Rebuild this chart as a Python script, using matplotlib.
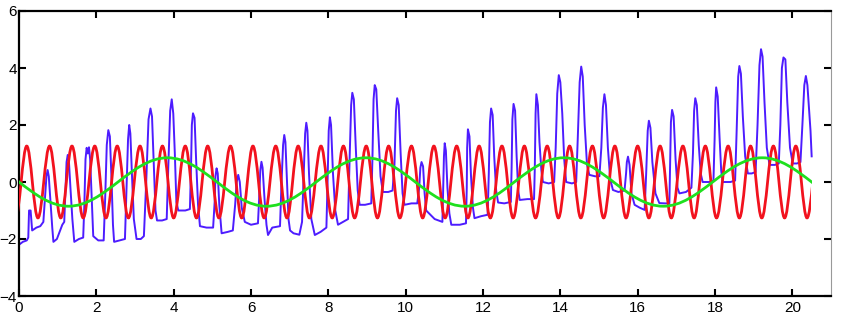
import numpy as np
import matplotlib
matplotlib.use("Agg")
import matplotlib.pyplot as plt
from matplotlib.path import Path
from matplotlib.patches import PathPatch, Rectangle

plt.rcParams["font.family"] = ["Liberation Sans", "DejaVu Sans"]

# blue signal, one pulse per row
blue_t = [
    0.0, 0.1, 0.2, 0.24, 0.26, 0.30, 0.34, 0.45, 0.55, 0.63,
    0.67, 0.71, 0.74, 0.77, 0.81, 0.86, 0.89, 0.98, 1.05, 1.12, 1.17,
    1.20, 1.23, 1.26, 1.29, 1.33, 1.38, 1.43, 1.55, 1.66,
    1.69, 1.72, 1.75, 1.78, 1.81, 1.84, 1.88, 1.92, 2.05, 2.19,
    2.23, 2.27, 2.31, 2.35, 2.39, 2.43, 2.46, 2.60, 2.74,
    2.78, 2.82, 2.85, 2.88, 2.92, 2.97, 3.04, 3.15, 3.23,
    3.29, 3.35, 3.40, 3.44, 3.48, 3.53, 3.57, 3.70, 3.82,
    3.86, 3.91, 3.95, 3.99, 4.03, 4.07, 4.12, 4.30, 4.42,
    4.45, 4.47, 4.50, 4.54, 4.58, 4.63, 4.68, 4.85, 5.02,
    5.06, 5.08, 5.11, 5.14, 5.18, 5.24, 5.40, 5.53,
    5.59, 5.63, 5.67, 5.71, 5.76, 5.84, 6.00, 6.18,
    6.21, 6.24, 6.27, 6.30, 6.35, 6.40, 6.44, 6.55, 6.75,
    6.79, 6.83, 6.86, 6.89, 6.93, 6.97, 7.01, 7.10, 7.25, 7.32,
    7.36, 7.40, 7.43, 7.46, 7.50, 7.56, 7.65, 7.80, 7.95,
    7.98, 8.01, 8.04, 8.07, 8.12, 8.18, 8.25, 8.38, 8.51,
    8.55, 8.59, 8.62, 8.66, 8.71, 8.76, 8.81, 8.95, 9.11,
    9.14, 9.17, 9.20, 9.24, 9.29, 9.35, 9.41, 9.55, 9.66,
    9.71, 9.75, 9.78, 9.82, 9.87, 9.92, 9.97, 10.15, 10.30,
    10.35, 10.38, 10.41, 10.45, 10.49, 10.53, 10.75, 10.95,
    10.97, 10.99, 11.01, 11.04, 11.08, 11.13, 11.18, 11.40, 11.56,
    11.58, 11.59, 11.61, 11.65, 11.69, 11.74, 11.78, 11.95, 12.12,
    12.15, 12.18, 12.21, 12.25, 12.29, 12.34, 12.39, 12.55, 12.72,
    12.74, 12.76, 12.79, 12.83, 12.87, 12.91, 12.95, 13.15, 13.32,
    13.34, 13.36, 13.38, 13.42, 13.46, 13.51, 13.55, 13.70, 13.84,
    13.88, 13.92, 13.96, 14.00, 14.05, 14.10, 14.15, 14.30, 14.41,
    14.45, 14.50, 14.54, 14.58, 14.63, 14.69, 14.75, 14.90, 15.01,
    15.06, 15.10, 15.14, 15.18, 15.23, 15.29, 15.36, 15.50, 15.66,
    15.70, 15.72, 15.75, 15.79, 15.84, 15.92, 16.05, 16.18,
    16.22, 16.26, 16.29, 16.33, 16.38, 16.46, 16.56, 16.70, 16.82,
    16.84, 16.86, 16.89, 16.93, 16.98, 17.03, 17.08, 17.25, 17.39,
    17.43, 17.46, 17.49, 17.53, 17.58, 17.63, 17.68, 17.85, 17.96,
    17.99, 18.01, 18.03, 18.07, 18.12, 18.16, 18.20, 18.40, 18.52,
    18.56, 18.60, 18.63, 18.67, 18.72, 18.78, 18.85, 18.95, 19.05,
    19.10, 19.15, 19.19, 19.23, 19.28, 19.34, 19.41, 19.55, 19.65,
    19.69, 19.73, 19.77, 19.82, 19.87, 19.94, 20.01, 20.12, 20.21,
    20.26, 20.31, 20.35, 20.39, 20.43, 20.47, 20.50,
]
blue_v = [
    -2.2, -2.1, -2.05, -1.95, -1.0, -1.0, -1.7, -1.6, -1.55, -1.4,
    -0.6, 0.2, 0.42, 0.2, -0.6, -1.6, -2.1, -2.0, -1.75, -1.5, -1.4,
    -0.3, 0.7, 0.95, 0.75, -0.2, -1.3, -2.1, -2.0, -1.95,
    -0.8, 0.8, 1.2, 1.0, 1.22, 0.8, -0.6, -1.9, -2.05, -2.05,
    -0.5, 1.3, 1.82, 1.6, 0.2, -1.5, -2.1, -2.05, -2.0,
    -0.3, 1.5, 2.0, 1.7, 0.3, -1.3, -2.0, -2.0, -1.9,
    0.0, 2.2, 2.58, 2.3, 0.8, -1.0, -1.35, -1.35, -1.3,
    0.5, 2.5, 2.9, 2.4, 1.0, -0.7, -1.0, -1.0, -0.95,
    0.6, 2.0, 2.41, 2.25, 0.8, -0.8, -1.55, -1.6, -1.6,
    -0.7, 0.2, 0.48, 0.3, -0.8, -1.8, -1.75, -1.7,
    -0.8, 0.0, 0.25, 0.0, -0.9, -1.4, -1.5, -1.45,
    -0.6, 0.4, 0.71, 0.5, -0.6, -1.5, -1.86, -1.6, -1.55,
    0.0, 1.3, 1.65, 1.4, 0.0, -1.3, -1.7, -1.8, -1.85, -1.4,
    0.2, 1.7, 2.08, 1.8, 0.3, -1.3, -1.86, -1.75, -1.6,
    0.0, 1.8, 2.27, 2.0, 0.3, -1.0, -1.5, -1.4, -1.3,
    0.8, 2.7, 3.13, 2.9, 1.2, -0.3, -0.8, -0.8, -0.75,
    0.8, 2.9, 3.4, 3.25, 1.8, 0.2, -0.35, -0.35, -0.3,
    0.6, 2.5, 2.94, 2.7, 1.0, -0.4, -0.8, -0.75, -0.75,
    -0.2, 0.5, 0.7, 0.55, -0.4, -1.0, -1.3, -1.4,
    -0.3, 0.9, 1.36, 1.1, -0.2, -1.1, -1.5, -1.5, -1.45,
    -0.2, 1.2, 1.85, 1.6, 0.2, -0.9, -1.27, -1.2, -1.15,
    0.3, 2.1, 2.58, 2.35, 0.9, -0.3, -0.72, -0.75, -0.7,
    0.5, 2.2, 2.74, 2.5, 0.9, -0.3, -0.63, -0.6, -0.6,
    0.5, 2.4, 3.08, 2.7, 1.4, 0.4, 0.0, -0.05, 0.0,
    1.2, 3.1, 3.75, 3.5, 2.4, 0.8, 0.0, -0.05, 0.0,
    1.5, 3.5, 4.05, 3.7, 2.0, 0.6, 0.25, 0.2, 0.2,
    1.2, 2.6, 3.08, 2.7, 1.2, 0.1, -0.28, -0.35, -0.3,
    0.3, 0.7, 0.89, 0.6, -0.4, -0.8, -0.9, -0.98,
    0.3, 1.8, 2.15, 1.9, 0.7, -0.4, -0.74, -0.75, -0.75,
    0.6, 2.1, 2.53, 2.3, 0.8, -0.2, -0.4, -0.35, -0.2,
    1.0, 2.5, 2.94, 2.7, 1.3, 0.3, 0.0, 0.0, 0.05,
    1.5, 2.8, 3.32, 3.0, 1.5, 0.4, 0.0, 0.0, 0.05,
    1.8, 3.7, 4.07, 3.8, 2.3, 0.9, 0.3, 0.3, 0.35,
    2.0, 4.1, 4.66, 4.4, 2.8, 1.2, 0.6, 0.6, 0.65,
    2.0, 4.0, 4.37, 4.3, 2.8, 1.2, 0.65, 0.65, 0.7,
    2.0, 3.4, 3.72, 3.4, 2.6, 1.8, 0.9,
]

# red wave: where its crests and troughs sit, and their height
red_crests = [0.20, 0.79, 1.37, 1.96, 2.54, 3.13, 3.71, 4.30, 4.88, 5.47, 6.05, 6.64,
              7.22, 7.81, 8.39, 8.98, 9.56, 10.15, 10.73, 11.32, 11.90, 12.49, 13.07,
              13.66, 14.24, 14.83, 15.41, 16.00, 16.58, 17.17, 17.75, 18.34, 18.92,
              19.51, 20.09, 20.68]
red_troughs = [-0.09, 0.49, 1.08, 1.66, 2.25, 2.83, 3.42, 4.00, 4.59, 5.17, 5.76, 6.34,
               6.93, 7.51, 8.10, 8.68, 9.27, 9.85, 10.44, 11.02, 11.61, 12.19, 12.78,
               13.36, 13.95, 14.53, 15.12, 15.70, 16.29, 16.87, 17.46, 18.04, 18.63,
               19.21, 19.80, 20.38]
red_height = 1.26
red_end = 20.47

# green wave
green_crests = [-1.28, 3.84, 8.97, 14.09, 19.22]
green_troughs = [1.28, 6.40, 11.53, 16.66, 21.78]
green_height = 0.85
green_end = 20.5


def wave_path(crests, troughs, height):
    # smooth half-waves between extrema (cubic Bezier, flat at each extremum)
    pts = sorted([(x, height) for x in crests] + [(x, -height) for x in troughs])
    k = 1 - 2 / np.pi
    verts = [pts[0]]
    codes = [Path.MOVETO]
    for (x0, y0), (x1, y1) in zip(pts[:-1], pts[1:]):
        dx = x1 - x0
        verts += [(x0 + k * dx, y0), (x1 - k * dx, y1), (x1, y1)]
        codes += [Path.CURVE4] * 3
    return Path(verts, codes)


fig = plt.figure(figsize=(8.55, 3.15), dpi=100)
ax = fig.add_axes([19 / 855, 1 - 296 / 315, 812 / 855, 285 / 315])

ax.plot(blue_t, blue_v, color="#4d1cff", lw=1.4, zorder=2)

for crests, troughs, height, end, color, z in [
    (red_crests, red_troughs, red_height, red_end, "#f2121e", 3),
    (green_crests, green_troughs, green_height, green_end, "#1ee01e", 4),
]:
    patch = PathPatch(wave_path(crests, troughs, height), facecolor="none",
                      edgecolor=color, lw=2.0, zorder=z)
    ax.add_patch(patch)
    patch.set_clip_path(Rectangle((0, -10), end, 20, transform=ax.transData))

ax.set_xlim(0, 21)
ax.set_ylim(-4, 6)
ax.set_xticks(range(0, 21, 2))
ax.set_yticks(range(-4, 7, 2))
ax.tick_params(direction="in", top=True, right=True, length=5, width=1.5,
               labelsize=11, colors="black")
ax.tick_params(axis="y", pad=1.5)
ax.tick_params(axis="x", pad=3.5)
for side in ["left", "top", "bottom"]:
    ax.spines[side].set_linewidth(1.6)
ax.spines["right"].set_linewidth(0.8)
ax.spines["right"].set_color("#999999")

fig.savefig("out.png", dpi=100)
